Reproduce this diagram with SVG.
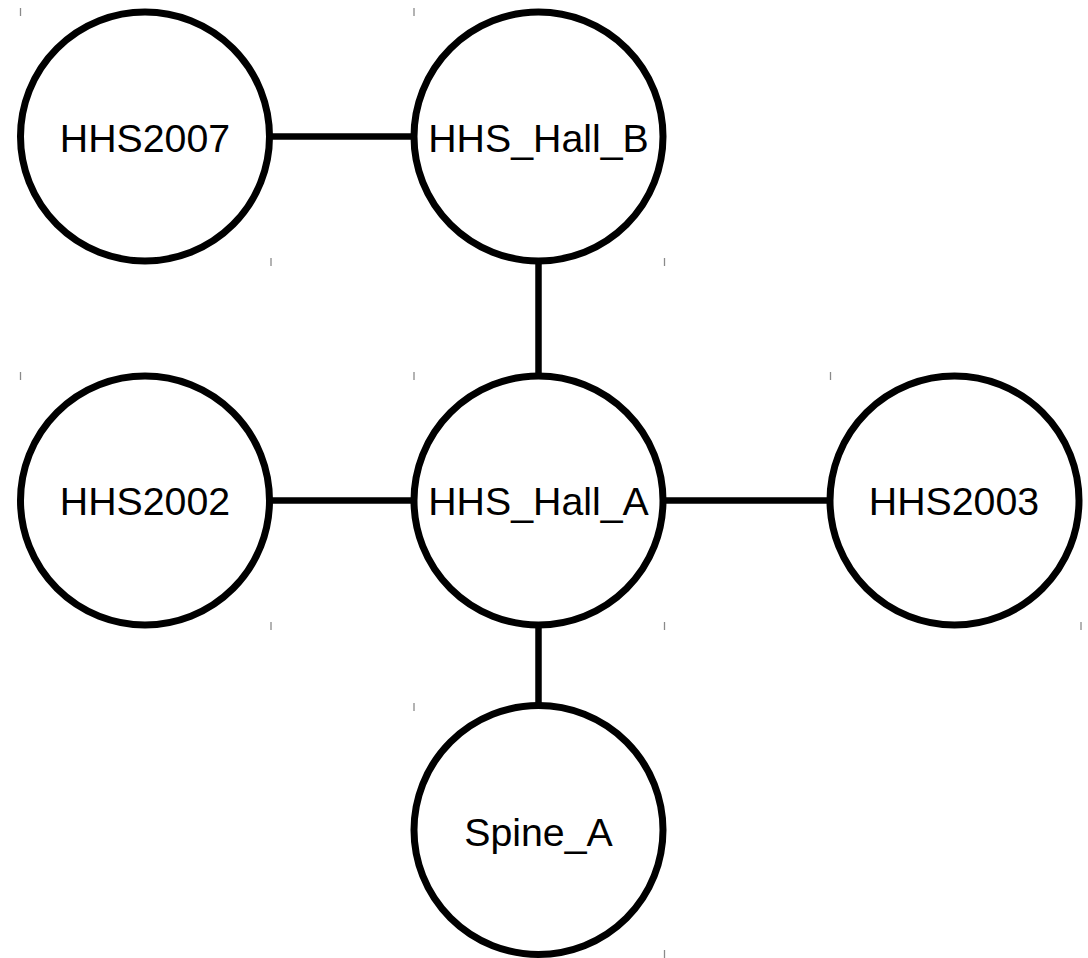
<svg xmlns="http://www.w3.org/2000/svg" width="1088" height="958" viewBox="0 0 1088 958">
<style>
.node circle{fill:#fff;stroke:#000;stroke-width:7}
.node text{font-family:"Liberation Sans",Arial,sans-serif;font-size:39.3px;fill:#000;text-anchor:middle}
.tick{stroke:#8a8a8a;stroke-width:1.3}
#edges line{stroke:#000;stroke-width:6.5}
</style>
<rect width="1088" height="958" fill="#fff"/>
<g id="edges">
<line x1="270" y1="136.5" x2="413" y2="136.5"/>
<line x1="538.5" y1="262" x2="538.5" y2="375"/>
<line x1="270" y1="500.5" x2="413" y2="500.5"/>
<line x1="664" y1="500.5" x2="830" y2="500.5"/>
<line x1="538.5" y1="626" x2="538.5" y2="706"/>
</g>
<g id="HHS2007" class="node">
<line class="tick" x1="20.5" y1="8" x2="20.5" y2="16"/><line class="tick" x1="271" y1="258" x2="271" y2="266"/>
<circle cx="145" cy="136.5" r="124.5"/>
<text x="145" y="151.5">HHS2007</text>
</g>
<g id="HHS_Hall_B" class="node">
<line class="tick" x1="414" y1="8" x2="414" y2="16"/><line class="tick" x1="664.5" y1="258" x2="664.5" y2="266"/>
<circle cx="538.5" cy="136.5" r="124.5"/>
<text x="538.5" y="151.5">HHS_Hall_B</text>
</g>
<g id="HHS2002" class="node">
<line class="tick" x1="20.5" y1="372" x2="20.5" y2="380"/><line class="tick" x1="271" y1="622" x2="271" y2="630"/>
<circle cx="145" cy="500.5" r="124.5"/>
<text x="145" y="514.5">HHS2002</text>
</g>
<g id="HHS_Hall_A" class="node">
<line class="tick" x1="414" y1="372" x2="414" y2="380"/><line class="tick" x1="664.5" y1="622" x2="664.5" y2="630"/>
<circle cx="538.5" cy="500.5" r="124.5"/>
<text x="538.5" y="514.5">HHS_Hall_A</text>
</g>
<g id="HHS2003" class="node">
<line class="tick" x1="830.5" y1="372" x2="830.5" y2="380"/><line class="tick" x1="1081" y1="622" x2="1081" y2="630"/>
<circle cx="954.5" cy="500.5" r="124.5"/>
<text x="954" y="514.5">HHS2003</text>
</g>
<g id="Spine_A" class="node">
<line class="tick" x1="414" y1="703" x2="414" y2="711"/><line class="tick" x1="664.5" y1="950" x2="664.5" y2="958"/>
<circle cx="538.5" cy="830" r="124.5"/>
<text x="538.5" y="846">Spine_A</text>
</g>
</svg>
